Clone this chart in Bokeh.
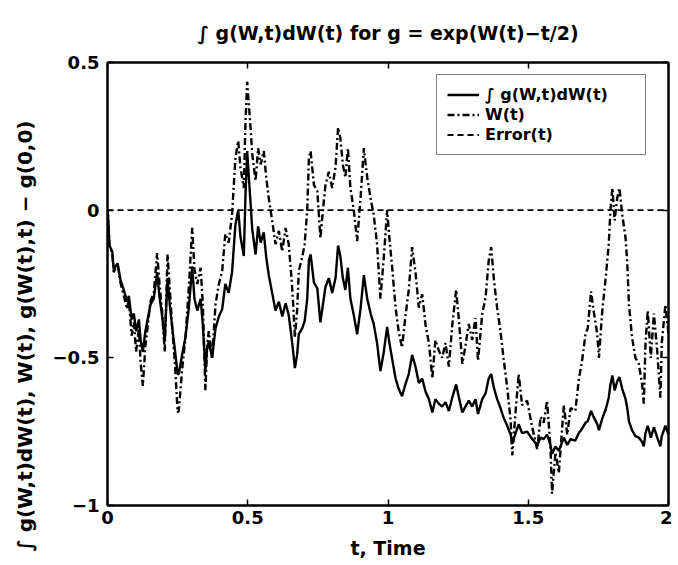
from bokeh.plotting import figure
from bokeh.models import (FixedTicker, LinearAxis, Range1d, Legend, LegendItem, Title)
from bokeh.embed import file_html
from bokeh.resources import INLINE

# ---------------- data ----------------
t_vals = [
    0.000, 0.002, 0.007, 0.017, 0.022, 0.036, 0.046, 0.058, 0.070, 0.076, 0.086, 0.094, 0.102, 0.112, 0.118,
    0.126, 0.135, 0.145, 0.153, 0.165, 0.177, 0.185, 0.195, 0.204, 0.214, 0.222, 0.231, 0.240, 0.250,
    0.254, 0.266, 0.278, 0.290, 0.302, 0.310, 0.320, 0.332, 0.340, 0.349, 0.355, 0.361, 0.373, 0.385, 0.397,
    0.409, 0.420, 0.432, 0.444, 0.456, 0.466, 0.474, 0.486, 0.492, 0.498,
    0.504, 0.510, 0.516, 0.528, 0.537, 0.546, 0.557, 0.566, 0.575, 0.587, 0.599, 0.611, 0.623, 0.635, 0.646,
    0.656, 0.662, 0.668, 0.676, 0.682, 0.694, 0.703, 0.712, 0.718, 0.724, 0.736, 0.748,
    0.759, 0.768, 0.777, 0.789, 0.801, 0.813, 0.822, 0.830, 0.839, 0.848, 0.857, 0.866, 0.878, 0.890, 0.902,
    0.914, 0.926, 0.938, 0.949, 0.961, 0.973, 0.985, 0.997,
    1.005, 1.015, 1.027, 1.038, 1.050, 1.062, 1.074, 1.086, 1.098, 1.110, 1.122, 1.134, 1.146, 1.158, 1.169,
    1.181, 1.193, 1.205, 1.217, 1.229, 1.243,
    1.253, 1.265, 1.276, 1.288, 1.300, 1.312, 1.321, 1.336, 1.348, 1.359, 1.368, 1.377, 1.389, 1.401, 1.413,
    1.425, 1.437, 1.443, 1.455, 1.466, 1.478, 1.496,
    1.514, 1.532, 1.544, 1.555, 1.567, 1.579, 1.585, 1.597, 1.609, 1.621, 1.627, 1.639, 1.651, 1.668, 1.680,
    1.692, 1.704, 1.712, 1.724, 1.733, 1.746,
    1.752, 1.764, 1.776, 1.787, 1.793, 1.800, 1.808, 1.817, 1.825, 1.835, 1.847, 1.853, 1.859, 1.870, 1.882,
    1.894, 1.906, 1.912, 1.918, 1.926, 1.937, 1.948, 1.960, 1.971, 1.976, 1.989, 2.000,
]

w_vals = [
    0.00, -0.02, -0.12, -0.145, -0.21, -0.18, -0.245, -0.29, -0.335, -0.30, -0.425, -0.38, -0.48, -0.40, -0.515,
    -0.595, -0.46, -0.38, -0.31, -0.28, -0.145, -0.245, -0.345, -0.48, -0.15, -0.265, -0.40, -0.515, -0.685,
    -0.68, -0.54, -0.43, -0.26, -0.06, -0.20, -0.25, -0.195, -0.32, -0.61, -0.46, -0.41, -0.50, -0.32, -0.25,
    -0.205, -0.08, -0.11, -0.015, 0.175, 0.235, 0.145, 0.075, 0.30, 0.435,
    0.355, 0.28, 0.19, 0.10, 0.21, 0.155, 0.20, 0.11, 0.04, -0.035, -0.115, -0.07, -0.14, -0.06, -0.115,
    -0.23, -0.32, -0.43, -0.34, -0.205, -0.16, -0.115, 0.00, 0.175, 0.20, 0.085, 0.065,
    -0.095, 0.00, 0.085, 0.13, 0.075, 0.145, 0.28, 0.245, 0.155, 0.11, 0.21, 0.075, 0.00, -0.105, 0.04,
    0.21, 0.11, 0.04, -0.015, -0.115, -0.30, -0.16, 0.00,
    -0.095, -0.195, -0.33, -0.41, -0.465, -0.36, -0.27, -0.125, -0.21, -0.33, -0.285, -0.39, -0.45, -0.57, -0.44,
    -0.475, -0.50, -0.45, -0.53, -0.39, -0.27,
    -0.375, -0.52, -0.46, -0.385, -0.44, -0.365, -0.51, -0.35, -0.295, -0.17, -0.125, -0.23, -0.33, -0.41, -0.51,
    -0.60, -0.71, -0.83, -0.68, -0.555, -0.66, -0.645,
    -0.735, -0.81, -0.70, -0.72, -0.645, -0.80, -0.96, -0.82, -0.89, -0.735, -0.66, -0.76, -0.67, -0.68, -0.575,
    -0.51, -0.42, -0.40, -0.275, -0.34, -0.42,
    -0.50, -0.34, -0.23, -0.115, 0.00, 0.075, -0.035, 0.04, 0.075, -0.015, -0.095, -0.18, -0.32, -0.43, -0.50,
    -0.52, -0.59, -0.655, -0.45, -0.34, -0.50, -0.35, -0.48, -0.635, -0.45, -0.32, -0.42,
]

integral_vals = [
    0.00, -0.02, -0.12, -0.14, -0.20, -0.18, -0.235, -0.27, -0.31, -0.29, -0.37, -0.35, -0.41, -0.37, -0.44,
    -0.48, -0.41, -0.36, -0.32, -0.30, -0.21, -0.29, -0.36, -0.44, -0.23, -0.32, -0.40, -0.47, -0.555,
    -0.555, -0.49, -0.43, -0.33, -0.19, -0.30, -0.34, -0.30, -0.39, -0.545, -0.47, -0.445, -0.50, -0.40, -0.36,
    -0.335, -0.25, -0.28, -0.21, -0.05, 0.00, -0.09, -0.155, 0.055, 0.20,
    0.11, 0.025, -0.065, -0.15, -0.055, -0.11, -0.075, -0.16, -0.22, -0.28, -0.34, -0.31, -0.36, -0.315, -0.355,
    -0.43, -0.48, -0.535, -0.49, -0.42, -0.40, -0.375, -0.30, -0.17, -0.15, -0.245, -0.265,
    -0.38, -0.32, -0.26, -0.23, -0.28, -0.23, -0.12, -0.155, -0.23, -0.27, -0.195, -0.30, -0.355, -0.42, -0.335,
    -0.22, -0.30, -0.35, -0.385, -0.45, -0.545, -0.48, -0.395,
    -0.45, -0.505, -0.57, -0.605, -0.63, -0.59, -0.555, -0.49, -0.53, -0.585, -0.57, -0.615, -0.64, -0.685, -0.64,
    -0.655, -0.665, -0.65, -0.68, -0.635, -0.59,
    -0.635, -0.685, -0.665, -0.645, -0.665, -0.64, -0.69, -0.64, -0.62, -0.57, -0.555, -0.60, -0.64, -0.67, -0.705,
    -0.73, -0.76, -0.79, -0.755, -0.725, -0.755, -0.75,
    -0.775, -0.795, -0.77, -0.775, -0.76, -0.795, -0.825, -0.80, -0.815, -0.785, -0.77, -0.795, -0.775, -0.78, -0.755,
    -0.74, -0.72, -0.715, -0.68, -0.70, -0.725,
    -0.745, -0.705, -0.675, -0.635, -0.59, -0.56, -0.61, -0.58, -0.565, -0.605, -0.64, -0.67, -0.715, -0.745, -0.765,
    -0.77, -0.785, -0.80, -0.755, -0.73, -0.77, -0.735, -0.77, -0.80, -0.765, -0.73, -0.76,
]

error_t = [0.0, 0.5, 1.0, 1.5, 2.0]
error_vals = [0.0, 0.0, 0.0, 0.0, 0.0]

x_ticks = [0, 0.5, 1, 1.5, 2]
x_tick_labels = ["0", "0.5", "1", "1.5", "2"]
y_ticks = [-1, -0.5, 0, 0.5]
y_tick_labels = ["−1", "−0.5", "0", "0.5"]

series_labels = ["∫ g(W,t)dW(t)", "W(t)", "Error(t)"]
title_text = "∫ g(W,t)dW(t) for g = exp(W(t)−t/2)"
x_label = "t, Time"
y_label = "∫ g(W,t)dW(t), W(t), g(W(t),t) − g(0,0)"

n = min(len(t_vals), len(w_vals), len(integral_vals))

# ---------------- figure ----------------
FONT = "DejaVu Sans"

p = figure(width=672, height=565, x_range=Range1d(0, 2), y_range=Range1d(-1, 0.5),
           output_backend="svg", toolbar_location=None,
           min_border_left=107, min_border_right=4, min_border_top=62, min_border_bottom=60)
p.grid.visible = False
p.outline_line_color = "black"
p.outline_line_width = 2
p.background_fill_color = "white"
p.border_fill_color = "white"

p.title.text = title_text
p.title.text_font = FONT
p.title.text_font_size = "19px"
p.title.text_font_style = "bold"
p.title.text_color = "black"
p.title.align = "center"
p.title.vertical_align = "middle"
p.title.standoff = 35


def style_axis(ax, ticks, labels, show_labels=True):
    ax.ticker = FixedTicker(ticks=ticks)
    ax.major_tick_in = 6
    ax.major_tick_out = 0
    ax.minor_tick_line_color = None
    ax.major_tick_line_width = 1.5
    ax.major_tick_line_color = "black"
    ax.axis_line_width = 2
    ax.axis_line_color = "black"
    ax.major_label_text_font = FONT
    ax.major_label_text_font_style = "bold"
    ax.major_label_text_color = "black"
    ax.major_label_text_font_size = "18px"
    if show_labels:
        ax.major_label_overrides = {float(k): v for k, v in zip(ticks, labels)}
    else:
        ax.major_label_overrides = {float(k): "" for k in ticks}
        ax.major_label_standoff = 0


xa = p.xaxis[0]
style_axis(xa, x_ticks, x_tick_labels)
xa.major_label_standoff = 5
xa.axis_label = x_label
xa.axis_label_text_font = FONT
xa.axis_label_text_font_size = "19px"
xa.axis_label_text_font_style = "bold"
xa.axis_label_text_color = "black"
xa.axis_label_standoff = 10

ya = p.yaxis[0]
style_axis(ya, y_ticks, y_tick_labels)
ya.major_label_standoff = 8

top_ax = LinearAxis()
style_axis(top_ax, x_ticks, x_tick_labels, show_labels=False)
p.add_layout(top_ax, "above")
right_ax = LinearAxis()
style_axis(right_ax, y_ticks, y_tick_labels, show_labels=False)
p.add_layout(right_ax, "right")

ytitle = Title(text=y_label, text_font=FONT, text_font_size="20px", text_font_style="bold",
               text_color="black", align="left", offset=-46, vertical_align="middle", standoff=23)
p.add_layout(ytitle, "left")

r_int = p.line(t_vals[:n], integral_vals[:n], line_color="black", line_width=2.4)
r_w = p.line(t_vals[:n], w_vals[:n], line_color="black", line_width=2.4, line_dash="7 3 2 3")
r_err = p.line(error_t, error_vals, line_color="black", line_width=1.8, line_dash="6 4")

legend = Legend(items=[LegendItem(label=series_labels[0], renderers=[r_int]),
                       LegendItem(label=series_labels[1], renderers=[r_w]),
                       LegendItem(label=series_labels[2], renderers=[r_err])],
                location=(329, 350))
legend.label_text_font = FONT
legend.label_text_font_style = "bold"
legend.label_text_font_size = "16px"
legend.label_text_color = "black"
legend.label_height = 17
legend.label_width = 150
legend.glyph_height = 17
legend.glyph_width = 32
legend.label_standoff = 6
legend.spacing = 1
legend.padding = 10
legend.margin = 0
legend.border_line_color = "black"
legend.border_line_width = 1
legend.background_fill_color = "white"
legend.background_fill_alpha = 1
p.add_layout(legend)

open("out.html", "w").write(file_html(p, INLINE))
